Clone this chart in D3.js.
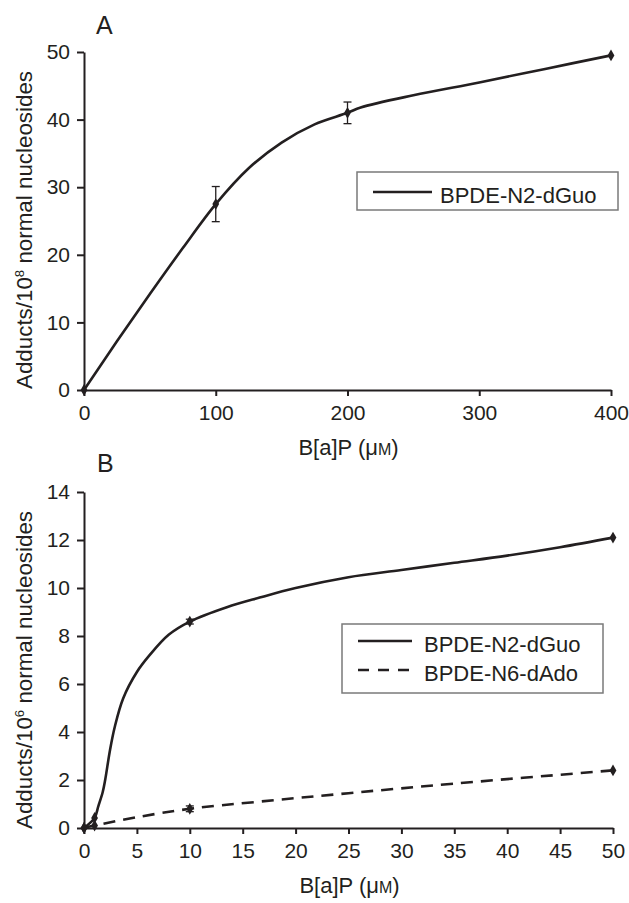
<!DOCTYPE html>
<html>
<head>
<meta charset="utf-8">
<script src="https://cdn.jsdelivr.net/npm/d3@7"></script>
<style>
  html, body { margin: 0; padding: 0; background: #fff; }
  svg { display: block; }
  text { font-family: "Liberation Sans", Arial, sans-serif; fill: #231f20; }
</style>
</head>
<body>
<svg id="chart" width="629" height="903"></svg>
<script>
// ---------- Panel A data ----------
const aDoseX = [0, 100, 200, 400];
const aN2Y = [0, 27.5, 41, 49.5];
const aN2Err = [0, 2.6, 1.6, 0];
// smoothed curve
const aCurveX = [0, 25, 50, 75, 100, 125, 150, 175, 200, 210, 250, 300, 350, 400];
const aCurveY = [0, 7.2, 14.2, 21, 27.5, 32.8, 36.6, 39.3, 41, 41.8, 43.6, 45.5, 47.5, 49.5];
const aXTicks = [0, 100, 200, 300, 400];
const aYTicks = [0, 10, 20, 30, 40, 50];

// ---------- Panel B data ----------
const bDoseX = [0, 1, 10, 50];
const bN2Y = [0, 0.42, 8.6, 12.1];
const bN2Err = [0, 0, 0.1, 0];
const bN6Y = [0, 0.1, 0.8, 2.4];
const bN6Err = [0, 0, 0.12, 0];
const bN2CurveX = [0, 1, 1.35, 1.77, 2.0, 2.46, 2.9, 3.7, 5.0, 6.2, 8.0, 10, 13.5, 16.6, 20, 25, 30, 35, 40, 45, 50];
const bN2CurveY = [0, 0.42, 0.9, 1.5, 2.0, 3.25, 4.2, 5.4, 6.5, 7.2, 8.05, 8.6, 9.2, 9.6, 10.0, 10.45, 10.75, 11.05, 11.35, 11.7, 12.1];
const bN6CurveX = [0, 1, 5, 10, 16.6, 25, 35, 50];
const bN6CurveY = [0, 0.1, 0.45, 0.8, 1.1, 1.45, 1.85, 2.4];
const bXTicks = [0, 5, 10, 15, 20, 25, 30, 35, 40, 45, 50];
const bYTicks = [0, 2, 4, 6, 8, 10, 12, 14];

const seriesNames = ["BPDE-N2-dGuo", "BPDE-N6-dAdo"];

const ink = "#231f20";
const svg = d3.select("#chart");

function zip(xs, ys) { return xs.map((x, i) => ({ x, y: ys[i] })); }

function drawPanel(cfg) {
  const x = d3.scaleLinear().domain(cfg.xDomain).range(cfg.xRange);
  const y = d3.scaleLinear().domain(cfg.yDomain).range(cfg.yRange);
  const g = svg.append("g");

  // axes
  const xAxis = d3.axisBottom(x).tickValues(cfg.xTicks).tickSize(6).tickSizeOuter(0).tickPadding(9);
  const yAxis = d3.axisLeft(y).tickValues(cfg.yTicks).tickSize(7).tickSizeOuter(0).tickPadding(7);
  const gx = g.append("g").attr("transform", `translate(0,${cfg.yRange[0]})`).call(xAxis);
  const gy = g.append("g").attr("transform", `translate(${cfg.xRange[0]},0)`).call(yAxis);
  [gx, gy].forEach(ax => {
    ax.select(".domain").attr("stroke", ink).attr("stroke-width", 2);
    ax.selectAll(".tick line").attr("stroke", ink).attr("stroke-width", 2);
    ax.selectAll(".tick text").attr("fill", ink).style("font-size", "21px")
      .style("font-family", '"Liberation Sans", Arial, sans-serif');
  });

  // curves
  const line = d3.line().x(d => x(d.x)).y(d => y(d.y)).curve(d3.curveCatmullRom.alpha(0.5));
  cfg.series.forEach(s => {
    g.append("path").datum(zip(s.curveX, s.curveY))
      .attr("d", line).attr("fill", "none").attr("stroke", ink)
      .attr("stroke-width", 2.6).attr("stroke-dasharray", s.dash || null)
      .attr("stroke-linejoin", "round");
    // error bars
    s.pts.forEach((p, i) => {
      const e = s.err[i];
      if (e > 0) {
        const cx = x(p.x);
        g.append("line").attr("x1", cx).attr("x2", cx).attr("y1", y(p.y - e)).attr("y2", y(p.y + e))
          .attr("stroke", ink).attr("stroke-width", 1.3);
        [p.y - e, p.y + e].forEach(v => {
          g.append("line").attr("x1", cx - 4).attr("x2", cx + 4).attr("y1", y(v)).attr("y2", y(v))
            .attr("stroke", ink).attr("stroke-width", 1.3);
        });
      }
    });
    // markers
    g.selectAll(null).data(s.pts).enter().append("path")
      .attr("d", d3.symbol(d3.symbolDiamond, 40))
      .attr("transform", d => `translate(${x(d.x)},${y(d.y)})`)
      .attr("fill", ink);
  });

  // panel letter
  g.append("text").attr("x", cfg.letterPos[0]).attr("y", cfg.letterPos[1])
    .style("font-size", "25px").text(cfg.letter);

  // x title
  const xt = g.append("text").attr("x", (cfg.xRange[0] + cfg.xRange[1]) / 2 + 1).attr("y", cfg.xTitleY)
    .attr("text-anchor", "middle").style("font-size", "22px");
  xt.append("tspan").text("B[a]P (μ");
  xt.append("tspan").style("font-size", "16px").text("M");
  xt.append("tspan").text(")");

  // y title
  const yt = g.append("text")
    .attr("transform", `translate(32,${cfg.yTitleCenter}) rotate(-90)`)
    .attr("text-anchor", "middle").style("font-size", "22px")
    .attr("textLength", 318).attr("lengthAdjust", "spacingAndGlyphs");
  yt.append("tspan").text("Adducts/10");
  yt.append("tspan").attr("dy", -8).style("font-size", "13px").text(cfg.exp);
  yt.append("tspan").attr("dy", 8).text(" normal nucleosides");

  // legend
  const L = cfg.legend;
  g.append("rect").attr("x", L.x).attr("y", L.y).attr("width", L.w).attr("height", L.h)
    .attr("fill", "#fff").attr("stroke", "#7a7a7a").attr("stroke-width", 1.5);
  cfg.series.forEach((s, i) => {
    const ly = L.rowY[i];
    g.append("line").attr("x1", L.lineX[0]).attr("x2", L.lineX[1]).attr("y1", ly).attr("y2", ly)
      .attr("stroke", ink).attr("stroke-width", 2.6).attr("stroke-dasharray", s.legendDash || null);
    g.append("text").attr("x", L.textX).attr("y", ly + 11).style("font-size", "22px").text(s.name);
  });
}

drawPanel({
  xDomain: [0, 400], xRange: [84, 611],
  yDomain: [0, 50], yRange: [390, 52],
  xTicks: aXTicks, yTicks: aYTicks,
  letter: "A", letterPos: [96, 34],
  xTitleY: 455, yTitleCenter: 230, exp: "8",
  series: [{
    name: seriesNames[0], pts: zip(aDoseX, aN2Y), err: aN2Err,
    curveX: aCurveX, curveY: aCurveY
  }],
  legend: { x: 357, y: 172, w: 261, h: 38, rowY: [192], lineX: [373, 432], textX: 440 }
});

drawPanel({
  xDomain: [0, 50], xRange: [84, 613],
  yDomain: [0, 14], yRange: [828, 492],
  xTicks: bXTicks, yTicks: bYTicks,
  letter: "B", letterPos: [97, 472],
  xTitleY: 893, yTitleCenter: 670, exp: "6",
  series: [{
    name: seriesNames[0], pts: zip(bDoseX, bN2Y), err: bN2Err,
    curveX: bN2CurveX, curveY: bN2CurveY
  }, {
    name: seriesNames[1], pts: zip(bDoseX, bN6Y), err: bN6Err,
    curveX: bN6CurveX, curveY: bN6CurveY, dash: "12,8", legendDash: "11,9"
  }],
  legend: { x: 342, y: 624, w: 261, h: 69, rowY: [641, 670], lineX: [358, 412], textX: 424 }
});
</script>
</body>
</html>
